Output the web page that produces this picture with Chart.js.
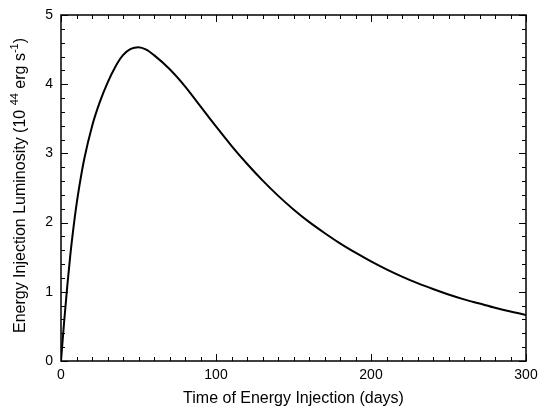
<!DOCTYPE html>
<html>
<head>
<meta charset="utf-8">
<script src="https://cdn.jsdelivr.net/npm/chart.js@4.4.0/dist/chart.umd.min.js"></script>
<style>
  html, body { margin: 0; padding: 0; background: #fff; }
  #wrap { width: 538px; height: 411px; }
</style>
</head>
<body>
<div id="wrap"><canvas id="lumChart" width="538" height="411"></canvas></div>
<script>
// time of energy injection (days)
const days = [0, 2, 4, 6, 8, 10, 12, 15, 20, 25, 30, 35, 40, 45, 50, 55, 60, 70, 80, 90,
  100, 110, 120, 130, 140, 150, 160, 170, 180, 190, 200, 210, 220, 230, 240, 250, 260,
  270, 280, 290, 300];
// luminosity, 10^44 erg/s
const luminosity = [0, 0.56, 1.07, 1.53, 1.92, 2.26, 2.55, 2.92, 3.39, 3.74, 4.02, 4.25, 4.42,
  4.51, 4.535, 4.5, 4.42, 4.22, 3.97, 3.68, 3.39, 3.11, 2.85, 2.61, 2.39, 2.19, 2.01, 1.85,
  1.7, 1.565, 1.44, 1.325, 1.22, 1.125, 1.04, 0.96, 0.89, 0.83, 0.77, 0.715, 0.665];

const xTicks = [0, 100, 200, 300];
const yTicks = [0, 1, 2, 3, 4, 5];

const FONT = "'Liberation Sans', Arial, sans-serif";

const framePlugin = {
  id: "frame",
  afterDraw: (chart) => {
    const ctx = chart.ctx;
    const area = chart.chartArea;
    const xs = chart.scales.x;
    const ys = chart.scales.y;
    ctx.save();
    ctx.strokeStyle = "#000";
    ctx.lineWidth = 1.5;
    ctx.strokeRect(area.left, area.top, area.right - area.left, area.bottom - area.top);

    // inward ticks on all four sides
    ctx.lineWidth = 1;
    ctx.beginPath();
    for (let v = 0; v <= 300; v += 10) {
      const px = Math.round(xs.getPixelForValue(v)) + 0.5;
      const len = v % 100 === 0 ? 7 : 4;
      ctx.moveTo(px, area.bottom);
      ctx.lineTo(px, area.bottom - len);
      ctx.moveTo(px, area.top);
      ctx.lineTo(px, area.top + len);
    }
    for (let i = 0; i <= 25; i++) {
      const v = i * 0.2;
      const py = Math.round(ys.getPixelForValue(v)) + 0.5;
      const len = i % 5 === 0 ? 7 : 4;
      ctx.moveTo(area.left, py);
      ctx.lineTo(area.left + len, py);
      ctx.moveTo(area.right, py);
      ctx.lineTo(area.right - len, py);
    }
    ctx.stroke();

    // y axis title with superscripts
    const parts = [
      ["Energy Injection Luminosity (10 ", false],
      ["44", true],
      [" erg s", false],
      ["-1", true],
      [")", false],
    ];
    const big = "16px " + FONT;
    const small = "11px " + FONT;
    let total = 0;
    parts.forEach(([t, sup]) => {
      ctx.font = sup ? small : big;
      total += ctx.measureText(t).width;
    });
    ctx.translate(25, 185.5);
    ctx.rotate(-Math.PI / 2);
    ctx.fillStyle = "#000";
    ctx.textBaseline = "alphabetic";
    let x = -total / 2;
    parts.forEach(([t, sup]) => {
      ctx.font = sup ? small : big;
      ctx.fillText(t, x, sup ? -7 : 0);
      x += ctx.measureText(t).width;
    });
    ctx.restore();
  },
};

new Chart(document.getElementById("lumChart"), {
  type: "line",
  data: {
    datasets: [
      {
        data: days.map((d, i) => ({ x: d, y: luminosity[i] })),
        borderColor: "#000",
        borderWidth: 2,
        pointRadius: 0,
        cubicInterpolationMode: "monotone",
        fill: false,
      },
    ],
  },
  options: {
    responsive: false,
    animation: false,
    layout: { padding: { top: 15, right: 12, left: 0, bottom: 0 } },
    plugins: { legend: { display: false }, tooltip: { enabled: false } },
    scales: {
      x: {
        type: "linear",
        min: 0,
        max: 300,
        afterBuildTicks: (scale) => { scale.ticks = xTicks.map((v) => ({ value: v })); },
        afterFit: (scale) => {
          scale.height = 50;
          scale.paddingLeft = 0;
          scale.paddingRight = 0;
        },
        grid: { display: false, drawTicks: false },
        border: { display: false },
        ticks: { color: "#000", font: { family: FONT, size: 14 }, padding: 6 },
        title: {
          display: true,
          text: "Time of Energy Injection (days)",
          color: "#000",
          font: { family: FONT, size: 16 },
          padding: { top: 4, bottom: 3 },
        },
      },
      y: {
        min: 0,
        max: 5,
        afterBuildTicks: (scale) => { scale.ticks = yTicks.map((v) => ({ value: v })); },
        afterFit: (scale) => {
          scale.width = 61;
          scale.paddingTop = 0;
          scale.paddingBottom = 0;
        },
        grid: { display: false, drawTicks: false },
        border: { display: false },
        ticks: { color: "#000", font: { family: FONT, size: 14 }, padding: 8 },
      },
    },
  },
  plugins: [framePlugin],
});
</script>
</body>
</html>
